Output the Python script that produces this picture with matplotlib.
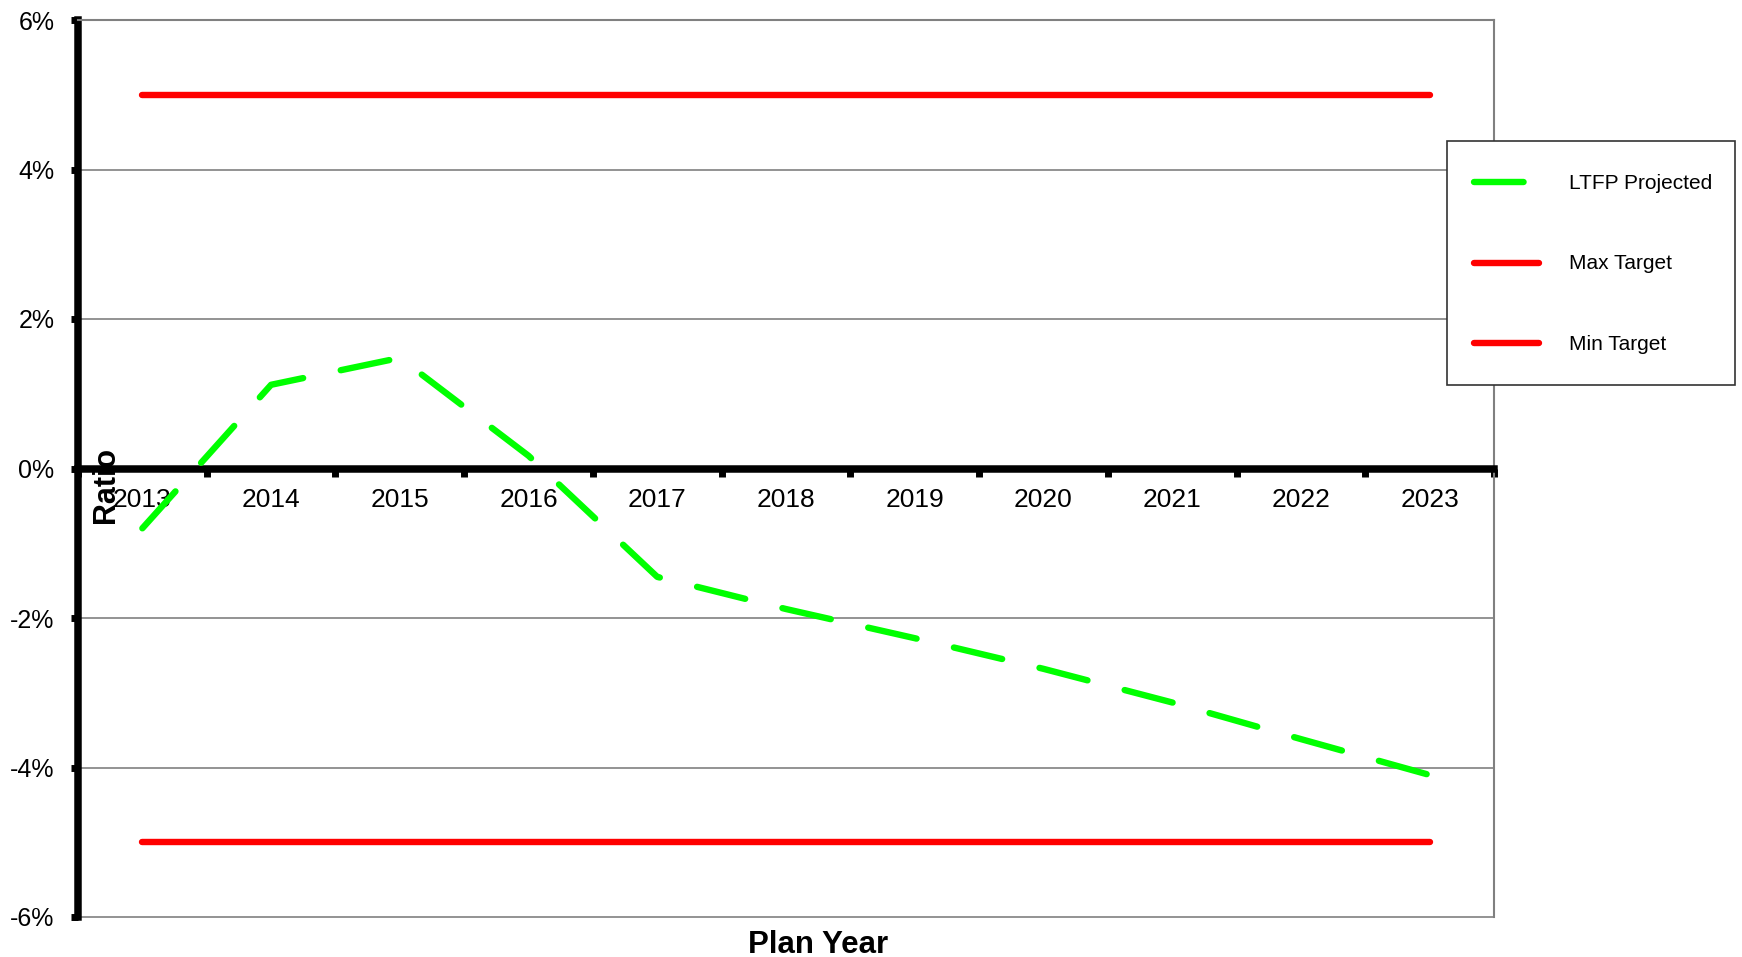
import matplotlib
matplotlib.use("Agg")
import numpy as np
import matplotlib.pyplot as plt
from matplotlib.ticker import FixedLocator, FuncFormatter

plt.rcParams['font.family'] = ['Liberation Sans', 'DejaVu Sans']

# Plan years and ratio series (percent)
years = ['2013', '2014', '2015', '2016', '2017', '2018',
         '2019', '2020', '2021', '2022', '2023']
ltfp_projected = [-0.80, 1.12, 1.48, 0.17, -1.45, -1.88,
                  -2.27, -2.68, -3.13, -3.62, -4.10]
max_target = [5.0] * len(years)
min_target = [-5.0] * len(years)
y_ticks = [-6, -4, -2, 0, 2, 4, 6]

W, H = 1742, 957
fig = plt.figure(figsize=(W / 100, H / 100), dpi=100)
ax = fig.add_axes([78 / W, 1 - 917 / H, (1494 - 78) / W, (917 - 20) / H])

x = list(range(len(years)))
lw = 4.6
ax.plot(x, ltfp_projected, color='#00FF00', lw=lw, dash_capstyle='round',
        linestyle=(0, (7.76, 6.01)), label='LTFP Projected', zorder=4)
ax.plot(x, max_target, color='#FF0000', lw=lw, solid_capstyle='round',
        label='Max Target', zorder=4)
ax.plot(x, min_target, color='#FF0000', lw=lw, solid_capstyle='round',
        label='Min Target', zorder=4)

ax.set_xlim(-0.5, len(years) - 0.5)
ax.set_ylim(-6, 6)

# y axis
ax.yaxis.set_major_locator(FixedLocator(y_ticks))
ax.yaxis.set_major_formatter(FuncFormatter(lambda v, p: f"{v:.0f}%"))
ax.tick_params(axis='y', which='major', direction='out', length=5, width=5,
               color='black', labelsize=18, pad=12)
ax.yaxis.grid(True, color='#808080', lw=1.2)
for gl in ax.get_ygridlines():
    gl.set_clip_on(False)

# x axis: boundary ticks on the zero line, year labels centred in each bin
ax.xaxis.set_major_locator(FixedLocator([i - 0.5 for i in range(len(years) + 1)]))
ax.xaxis.set_major_formatter(FuncFormatter(lambda v, p: ''))
ax.xaxis.set_minor_locator(FixedLocator(x))
ax.xaxis.set_minor_formatter(FuncFormatter(lambda v, p: years[int(round(v))]))
ax.tick_params(axis='x', which='major', direction='out', length=5.5, width=5,
               color='black')
ax.tick_params(axis='x', which='minor', length=0, labelsize=19, pad=14)

ax.spines['bottom'].set_position(('data', 0))
ax.spines['bottom'].set_linewidth(5.4)
ax.spines['bottom'].set_color('black')
ax.spines['left'].set_linewidth(5.4)
ax.spines['left'].set_color('black')
for s in ('top', 'right'):
    ax.spines[s].set_color('#808080')
    ax.spines[s].set_linewidth(1.5)

leg = ax.legend(loc='upper left', bbox_to_anchor=(1447 / W, 1 - 141 / H),
                bbox_transform=fig.transFigure, borderaxespad=0,
                fontsize=15, handlelength=3.3, handleheight=2.32,
                handletextpad=1.45, borderpad=1.1, labelspacing=2.12,
                fancybox=False, framealpha=1, edgecolor='#333333')
leg.get_frame().set_linewidth(1.2)
# centre the legend swatches on their labels and inset them slightly
for line in leg.get_lines():
    xd = np.asarray(line.get_xdata(), dtype=float)
    yd = np.asarray(line.get_ydata(), dtype=float)
    xd = xd.copy()
    xd[0] += 3.0
    line.set_data(xd, yd - 4.0)

fig.text(106 / W, 1 - 485 / H, 'Ratio', rotation=90, fontsize=22,
         fontweight='bold', ha='center', va='center')
fig.text(818 / W, 1 - 953 / H, 'Plan Year', fontsize=22.5,
         fontweight='bold', ha='center', va='baseline')

fig.savefig('out.png', dpi=100, facecolor='white')
